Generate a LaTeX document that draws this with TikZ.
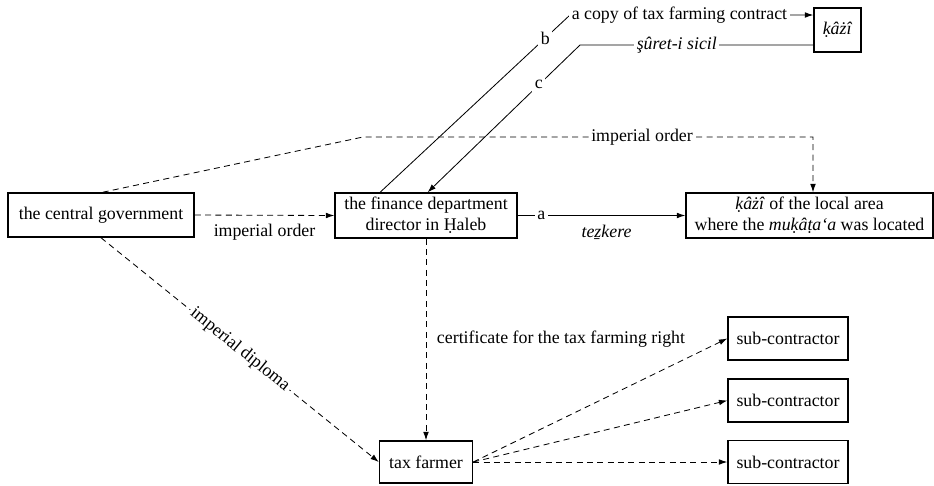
\documentclass[tikz,border=0pt]{standalone}
\usepackage{fontspec}
\setmainfont{Liberation Serif}
\usetikzlibrary{positioning, arrows.meta, calc}

\begin{document}
\begin{tikzpicture}[x=0.6pt, y=-0.6pt, font=\fontsize{10.7}{12.6}\selectfont,
  >={Latex[length=5pt,width=3.4pt]},
  box/.style={draw, line width=0.9pt, align=center, inner sep=2pt},
  dashline/.style={line width=0.5pt, dash pattern=on 3.6pt off 2.6pt},
  solidline/.style={line width=0.5pt},
  lbl/.style={fill=white, inner sep=1.5pt}]

\useasboundingbox (0,0) rectangle (934,485);

% boxes
\node[box, minimum width=111.6pt, minimum height=26.4pt] (gov) at (101,215) {the central government};
\node[box, minimum width=109.2pt, minimum height=27pt] (fin) at (426,215.5) {the finance department\\director in Ḥaleb};
\node[box, minimum width=148.2pt, minimum height=27pt] (loc) at (809.5,215.5) {\textit{ḳâżî} of the local area\\where the \textit{muḳâṭa‘a} was located};
\node[box, minimum width=28.2pt, minimum height=26.4pt] (kazi) at (837.5,30) {\textit{ḳâżî}};
\node[box, minimum width=55.8pt, minimum height=25.2pt] (farmer) at (426,462) {tax farmer};

\node[box, minimum width=72pt, minimum height=25.8pt] (sub1) at (788,338.5) {sub-contractor};
\node[box, minimum width=72pt, minimum height=25.8pt] (sub2) at (788,400.5) {sub-contractor};
\node[box, minimum width=72pt, minimum height=25.8pt] (sub3) at (788,462) {sub-contractor};

% bends
\coordinate (iobend) at (363,137);
\coordinate (iocorner) at (813,137);
\coordinate (bbend) at (570,15);
\coordinate (cbend) at (580,45);

% orders
\draw[dashline,->] (gov.east) -- node[below=2pt] {imperial order} (fin.west);
\draw[dashline,->] ([xshift=1pt]gov.north) -- (iobend) -- node[lbl, pos=0.62] {imperial order} (iocorner) -- (iocorner |- loc.north);
\draw[dashline,->] (gov.south) -- node[lbl, sloped] {imperial diploma} (farmer.west);
\draw[dashline,->] (fin.south) -- node[right=3pt] {certificate for the tax farming right} (farmer.north);

% documents
\draw[solidline,->] (fin.east) -- node[lbl, pos=0.14] {a} node[below=2pt, pos=0.53] {\textit{teẕkere}} (loc.west);
\draw[solidline,->] ($(fin.north west)!0.25!(fin.north east)$) -- node[lbl, pos=0.87] {b} (bbend)
  -- node[lbl, pos=0.45] {a copy of tax farming contract} (bbend -| kazi.west);
\draw[solidline,->] (cbend -| kazi.west) -- node[lbl, pos=0.585] {\textit{şûret-i sicil}} (cbend)
  -- node[lbl, pos=0.27] {c} ([xshift=1pt]fin.north);

% sub-contracts
\foreach \s in {sub1,sub2,sub3}
  \draw[dashline,->] (farmer.east) -- (\s.west);

\end{tikzpicture}
\end{document}
